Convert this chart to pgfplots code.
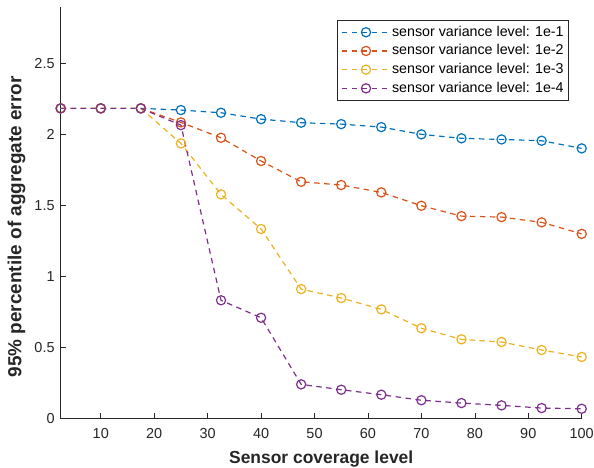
\documentclass[border=0pt]{standalone}
\usepackage{fontspec}
\setmainfont{Liberation Sans}
\usepackage{pgfplots}
\pgfplotsset{compat=1.18}
\definecolor{mblue}{rgb}{0,0.447,0.741}
\definecolor{mred}{rgb}{0.85,0.325,0.098}
\definecolor{myellow}{rgb}{0.929,0.694,0.125}
\definecolor{mpurple}{rgb}{0.494,0.184,0.556}
\definecolor{axc}{RGB}{38,38,38}
\begin{document}
\begin{tikzpicture}
\useasboundingbox (0,0) rectangle (594bp,468bp);
\begin{axis}[
  at={(60.7bp,49.3bp)}, anchor=south west,
  scale only axis, width=521bp, height=411.7bp,
  xmin=2.5, xmax=100, ymin=0, ymax=2.9,
  xtick={10,20,30,40,50,60,70,80,90,100},
  ytick={0,0.5,1,1.5,2,2.5},
  axis x line*=bottom, axis y line*=left,
  axis line style={axc, line width=0.6bp, -},
  tick style={axc, line width=0.6bp},
  major tick length=5.5bp, tick align=inside,
  /pgf/number format/assume math mode=true,
  tick label style={font=\fontsize{14.5}{17}\selectfont, text=axc},
  xticklabel style={yshift=-6bp},
  yticklabel style={xshift=-2.6bp},
  xlabel={Sensor coverage level},
  ylabel={95\% percentile of aggregate error},
  xlabel style={font=\bfseries\fontsize{17.5}{20}\selectfont, text=axc, at={(axis description cs:0.5,-0.0974)}, anchor=center},
  ylabel style={font=\bfseries\fontsize{19}{22}\selectfont, text=axc, at={(axis description cs:-0.085,0.466)}, anchor=center},
  every axis plot/.append style={line width=1.2bp, dash pattern=on 5.5bp off 4.5bp, mark=o, mark size=4.6bp, mark options={solid}},
  legend image code/.code={\draw[mark repeat=2,mark phase=2] plot coordinates {(0bp,0bp) (24.5bp,0bp) (49bp,0bp)};},
  legend cell align=left,
  legend style={at={(0.9756,0.9684)}, anchor=north east, draw=axc, line width=0.6bp, fill=white,
    inner xsep=4bp, inner ysep=4.2bp, row sep=3.2bp, column sep=0bp,
    font=\fontsize{14.3}{17}\selectfont, text=black,
    nodes={inner sep=1bp, text height=10.5bp, text depth=3bp}},
]
\addplot[mblue] coordinates {(2.5,2.186) (10,2.186) (17.5,2.186) (25,2.174) (32.5,2.155) (40,2.110) (47.5,2.085) (55,2.075) (62.5,2.054) (70,2.003) (77.5,1.975) (85,1.967) (92.5,1.958) (100,1.904)};
\addlegendentry{sensor variance level: 1e-1}
\addplot[mred] coordinates {(2.5,2.186) (10,2.186) (17.5,2.186) (25,2.087) (32.5,1.979) (40,1.815) (47.5,1.669) (55,1.646) (62.5,1.594) (70,1.500) (77.5,1.427) (85,1.420) (92.5,1.383) (100,1.302)};
\addlegendentry{sensor variance level: 1e-2}
\addplot[myellow] coordinates {(2.5,2.186) (10,2.186) (17.5,2.186) (25,1.939) (32.5,1.580) (40,1.336) (47.5,0.913) (55,0.850) (62.5,0.770) (70,0.637) (77.5,0.559) (85,0.540) (92.5,0.484) (100,0.435)};
\addlegendentry{sensor variance level: 1e-3}
\addplot[mpurple] coordinates {(2.5,2.186) (10,2.186) (17.5,2.186) (25,2.068) (32.5,0.834) (40,0.711) (47.5,0.242) (55,0.204) (62.5,0.169) (70,0.130) (77.5,0.110) (85,0.094) (92.5,0.075) (100,0.070)};
\addlegendentry{sensor variance level: 1e-4}
\end{axis}
\end{tikzpicture}
\end{document}
